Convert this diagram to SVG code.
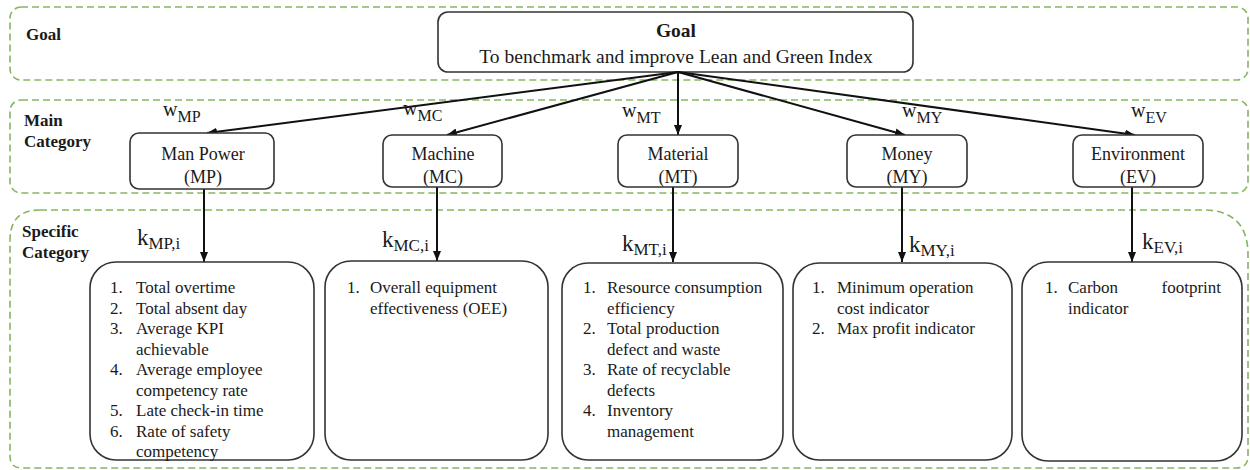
<svg xmlns="http://www.w3.org/2000/svg" width="1250" height="470" viewBox="0 0 1250 470">
<style>
.band{fill:none;stroke:#86b65f;stroke-width:1.6;stroke-dasharray:7 4}
.box{fill:#fff;stroke:#333;stroke-width:1.6}
.t{font-family:'Liberation Serif', 'Times New Roman', serif;fill:#1a1a1a}
.bl{font-weight:bold;font-size:17px}
.mt{font-size:18px;text-anchor:middle}
.li{font-size:17px}
.w{font-size:20px}
.ws{font-size:16px}
.k{font-size:23px}
.ks{font-size:17px}
.c{stroke:#111;stroke-width:2;fill:none;marker-end:url(#ah)}
</style>
<defs>
<marker id="ah" viewBox="0 0 10 8" refX="10" refY="4" markerWidth="10" markerHeight="8" markerUnits="userSpaceOnUse" orient="auto">
<path d="M0,0 L10,4 L0,8 Z" fill="#111"/>
</marker>
</defs>
<rect width="1250" height="470" fill="#fff"/>
<g id="bands">
<rect class="band" x="10" y="7" width="1238" height="73" rx="11"/>
<rect class="band" x="10" y="100" width="1238" height="93" rx="11"/>
<path class="band" d="M40,210 H1203 Q1248,210 1248,255 V456 Q1248,468 1236,468 H22 Q10,468 10,456 V240 Q10,210 40,210 Z"/>
<text class="t bl" x="26" y="40">Goal</text>
<text class="t bl" x="24" y="126">Main</text>
<text class="t bl" x="24" y="147">Category</text>
<text class="t bl" x="22" y="237">Specific</text>
<text class="t bl" x="22" y="258">Category</text>
</g>
<g id="goal">
<rect class="box" x="438" y="12" width="475" height="60" rx="10"/>
<text class="t" x="676" y="37" text-anchor="middle" font-size="19.5" font-weight="bold">Goal</text>
<text class="t" x="676" y="63" text-anchor="middle" font-size="19.5">To benchmark and improve Lean and Green Index</text>
</g>
<g id="connectors">
<line class="c" x1="678" y1="72" x2="207" y2="133"/>
<line class="c" x1="678" y1="72" x2="447" y2="135"/>
<line class="c" x1="678" y1="72" x2="678" y2="135"/>
<line class="c" x1="678" y1="72" x2="905" y2="135"/>
<line class="c" x1="678" y1="72" x2="1135" y2="135"/>
<line class="c" x1="204" y1="189" x2="204" y2="262"/>
<line class="c" x1="437" y1="187" x2="437" y2="261"/>
<line class="c" x1="673" y1="187" x2="673" y2="262"/>
<line class="c" x1="902" y1="187" x2="902" y2="262"/>
<line class="c" x1="1132" y1="187" x2="1132" y2="262"/>
<text class="t w" x="163" y="116">w<tspan class="ws" dy="6">MP</tspan></text>
<text class="t w" x="403" y="115">w<tspan class="ws" dy="6">MC</tspan></text>
<text class="t w" x="622" y="117">w<tspan class="ws" dy="6">MT</tspan></text>
<text class="t w" x="902" y="117">w<tspan class="ws" dy="6">MY</tspan></text>
<text class="t w" x="1131" y="117">w<tspan class="ws" dy="6">EV</tspan></text>
<text class="t k" x="137" y="245">k<tspan class="ks" dy="4">MP,i</tspan></text>
<text class="t k" x="382" y="247">k<tspan class="ks" dy="4">MC,i</tspan></text>
<text class="t k" x="622" y="251">k<tspan class="ks" dy="4">MT,i</tspan></text>
<text class="t k" x="909" y="252">k<tspan class="ks" dy="4">MY,i</tspan></text>
<text class="t k" x="1142" y="249">k<tspan class="ks" dy="4">EV,i</tspan></text>
</g>
<g id="mp">
<rect class="box" x="130" y="133" width="144" height="56" rx="9"/>
<text class="t mt" x="203" y="160">Man Power</text>
<text class="t mt" x="203" y="183">(MP)</text>
</g>
<g id="mc">
<rect class="box" x="383" y="135" width="119" height="52" rx="9"/>
<text class="t mt" x="443" y="160">Machine</text>
<text class="t mt" x="443" y="183">(MC)</text>
</g>
<g id="mt">
<rect class="box" x="618" y="135" width="120" height="52" rx="9"/>
<text class="t mt" x="678" y="160">Material</text>
<text class="t mt" x="678" y="183">(MT)</text>
</g>
<g id="my">
<rect class="box" x="847" y="135" width="120" height="52" rx="9"/>
<text class="t mt" x="907" y="160">Money</text>
<text class="t mt" x="907" y="183">(MY)</text>
</g>
<g id="ev">
<rect class="box" x="1073" y="135" width="130" height="52" rx="9"/>
<text class="t mt" x="1138" y="160">Environment</text>
<text class="t mt" x="1138" y="183">(EV)</text>
</g>
<g id="mp-list">
<rect class="box" x="90" y="262" width="224" height="198" rx="26"/>
<g class="t li">
<text x="110" y="293">1.</text><text x="136" y="293">Total overtime</text>
<text x="110" y="313.5">2.</text><text x="136" y="313.5">Total absent day</text>
<text x="110" y="334">3.</text><text x="136" y="334">Average KPI</text>
<text x="136" y="354.5">achievable</text>
<text x="110" y="375">4.</text><text x="136" y="375">Average employee</text>
<text x="136" y="395.5">competency rate</text>
<text x="110" y="416">5.</text><text x="136" y="416">Late check-in time</text>
<text x="110" y="436.5">6.</text><text x="136" y="436.5">Rate of safety</text>
<text x="136" y="457">competency</text>
</g>
</g>
<g id="mc-list">
<rect class="box" x="325" y="261" width="223" height="199" rx="26"/>
<g class="t li">
<text x="347" y="293">1.</text><text x="370" y="293">Overall equipment</text>
<text x="370" y="313.5">effectiveness (OEE)</text>
</g>
</g>
<g id="mt-list">
<rect class="box" x="562" y="263" width="221" height="197" rx="26"/>
<g class="t li">
<text x="583" y="293">1.</text><text x="607" y="293">Resource consumption</text>
<text x="607" y="313.5">efficiency</text>
<text x="583" y="334">2.</text><text x="607" y="334">Total production</text>
<text x="607" y="354.5">defect and waste</text>
<text x="583" y="375">3.</text><text x="607" y="375">Rate of recyclable</text>
<text x="607" y="395.5">defects</text>
<text x="583" y="416">4.</text><text x="607" y="416">Inventory</text>
<text x="607" y="436.5">management</text>
</g>
</g>
<g id="my-list">
<rect class="box" x="793" y="263" width="219" height="197" rx="26"/>
<g class="t li">
<text x="812" y="293">1.</text><text x="837" y="293">Minimum operation</text>
<text x="837" y="313.5">cost indicator</text>
<text x="812" y="334">2.</text><text x="837" y="334">Max profit indicator</text>
</g>
</g>
<g id="ev-list">
<rect class="box" x="1022" y="262" width="220" height="199" rx="26"/>
<g class="t li">
<text x="1045" y="293">1.</text><text x="1068" y="293">Carbon</text><text x="1221" y="293" text-anchor="end">footprint</text>
<text x="1068" y="313.5">indicator</text>
</g>
</g>
</svg>
